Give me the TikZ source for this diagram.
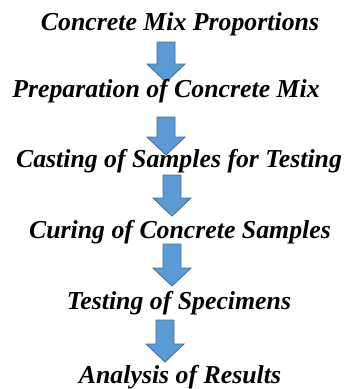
\documentclass[tikz,border=0pt]{standalone}
\usepackage{fontspec}
\setmainfont{Liberation Serif}
\usepackage{tikz}
\usetikzlibrary{calc}

\definecolor{arrowblue}{HTML}{5B9BD5}
\definecolor{arrowedge}{HTML}{41719C}

\begin{document}
\begin{tikzpicture}[x=1pt,y=1pt]
\tikzstyle{every node}=[anchor=base,inner sep=0pt,font=\fontsize{25.8}{30}\selectfont\bfseries\itshape];
\tikzstyle{flow}=[fill=arrowblue,draw=arrowedge,line width=0.9pt,
  to path={let \p1=(\tikztostart),\p2=(\tikztotarget) in
    (\x1-9pt,\y1) -- (\x1+9pt,\y1) -- (\x1+9pt,\y2+18pt) -- (\x1+19pt,\y2+18pt)
    -- (\x1,\y2) -- (\x1-19pt,\y2+18pt) -- (\x1-9pt,\y2+18pt) -- cycle}];
\useasboundingbox (0,0) rectangle (346,-389);
% arrow ends
\coordinate (t1) at (166,-42);  \coordinate (h1) at (166,-82);
\coordinate (t2) at (166,-117); \coordinate (h2) at (166,-155);
\coordinate (t3) at (172,-175); \coordinate (h3) at (172,-216);
\coordinate (t4) at (172,-244); \coordinate (h4) at (172,-286);
\coordinate (t5) at (165,-320); \coordinate (h5) at (165,-362);
\draw [flow] (t1) to (h1);
\draw [flow] (t2) to (h2);
\draw [flow] (t3) to (h3);
\draw [flow] (t4) to (h4);
\draw [flow] (t5) to (h5);
% steps
\node (p1) at (180,-30) {Concrete Mix Proportions};
\node (p2) at (166,-97) {Preparation of Concrete Mix};
\node (p3) at (179,-167) {Casting of Samples for Testing};
\node (p4) at (180,-238) {Curing of Concrete Samples};
\node (p5) at (179,-309) {Testing of Specimens};
\node (p6) at (180,-383) {Analysis of Results};
\end{tikzpicture}
\end{document}
